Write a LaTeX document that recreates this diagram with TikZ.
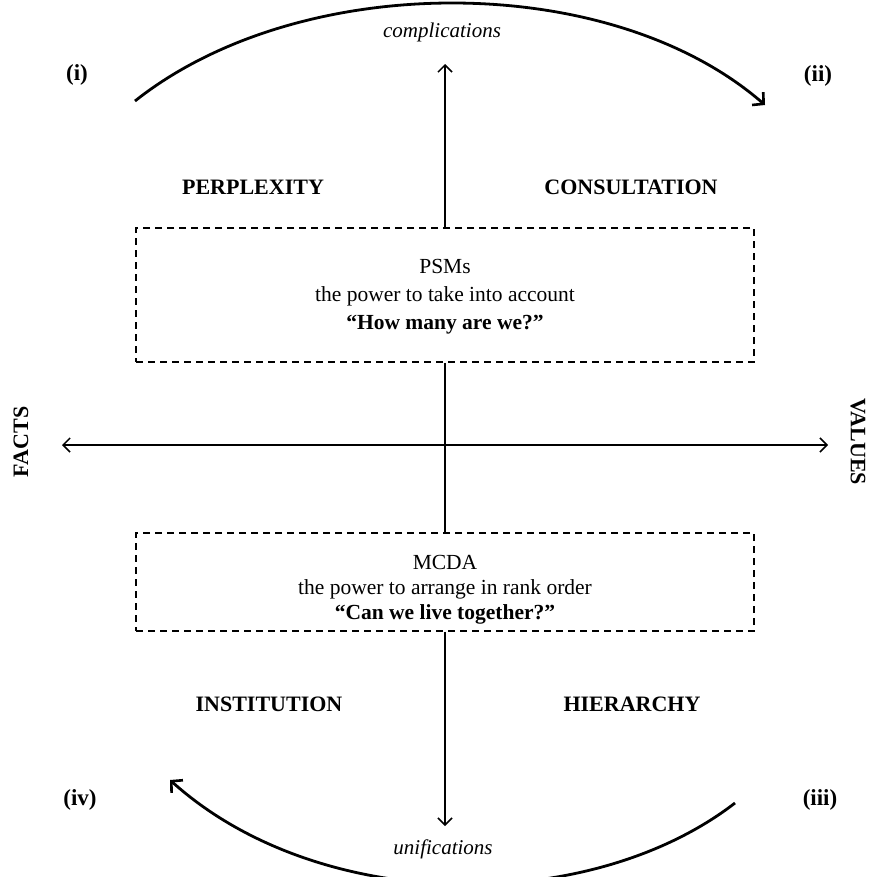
\documentclass[tikz,border=0pt]{standalone}
\usepackage{fontspec}
\setmainfont{Liberation Serif}
\usetikzlibrary{arrows.meta}
\begin{document}
\begin{tikzpicture}[x=1pt,y=-1pt,
  lbl/.style={font=\fontsize{22}{24}\selectfont\bfseries},
  numlbl/.style={font=\fontsize{23}{26}\selectfont\bfseries},
  itl/.style={font=\fontsize{21}{24}\selectfont\itshape},
  dbox/.style={draw, line width=1.5pt, dash pattern=on 7pt off 5pt, minimum width=618pt},
  boxtext/.style={align=center, font=\fontsize{21.5}{28}\selectfont},
  axis/.style={line width=1.5pt},
  barb/.style={-{Straight Barb[length=7pt,width=14pt,line width=1.5pt]}},
  arcline/.style={line width=2.8pt, -{Straight Barb[length=8pt,width=17pt,line width=2.6pt]}}
]
\useasboundingbox (0,0) rectangle (877,876);
% boxes
\node[dbox, minimum height=134pt,
  label={[boxtext, yshift=-2pt]center:{PSMs\\the power to take into account\\\textbf{“How many are we?”}}}] (b1) at (445,295) {};
\node[dbox, minimum height=98pt,
  label={[boxtext, font=\fontsize{21.5}{25}\selectfont, yshift=-8pt]center:{MCDA\\the power to arrange in rank order\\\textbf{“Can we live together?”}}}] (b2) at (445,582) {};
% coordinates
\coordinate (top) at (445,64);
\coordinate (bot) at (445,826);
\coordinate (L) at (62,445);
\coordinate (R) at (828,445);
\coordinate (a1s) at (135,101);
\coordinate (a1e) at (765,105);
\coordinate (a2s) at (735,803);
\coordinate (a2e) at (170,780);
% vertical
\draw[axis, barb] (b1.north) -- (top);
\draw[axis] (b1.south) -- (b2.north);
\draw[axis, barb] (b2.south) -- (bot);
% horizontal
\draw[axis, {Straight Barb[length=7pt,width=14pt,line width=1.5pt]}-{Straight Barb[length=7pt,width=14pt,line width=1.5pt]}] (L) -- (R);
% arcs
\draw[arcline] (a1s) .. controls (300,-30) and (610,-30) .. (a1e);
\draw[arcline] (a2s) .. controls (590,915) and (320,915) .. (a2e);
% labels
\node[itl] (compl) at (442,32) {complications};
\node[itl] (unif) at (443,849) {unifications};
\node[numlbl] (n1) at (77,75) {(i)};
\node[numlbl] (n2) at (818,76) {(ii)};
\node[numlbl] (n3) at (820,800) {(iii)};
\node[numlbl] (n4) at (80,800) {(iv)};
\node[lbl] (perp) at (253,187) {PERPLEXITY};
\node[lbl] (cons) at (631,187) {CONSULTATION};
\node[lbl] (inst) at (269,704) {INSTITUTION};
\node[lbl] (hier) at (632,704) {HIERARCHY};
\node[lbl, rotate=90] (facts) at (21,442) {FACTS};
\node[lbl, rotate=-90] (vals) at (858,442) {VALUES};
\end{tikzpicture}
\end{document}
